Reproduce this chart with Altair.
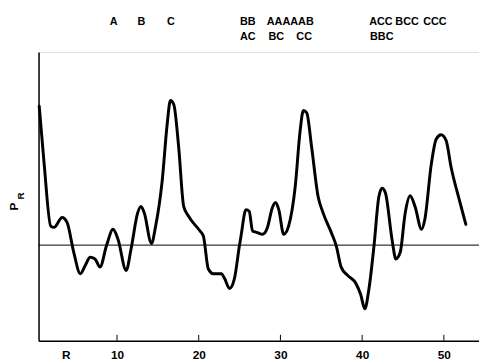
import altair as alt
import pandas as pd

# Curve (R, P_R in arbitrary units; 0 = reference line)
R = [0.48, 1.08, 1.89, 2.29, 3.29, 3.89, 4.70, 5.51, 6.11, 6.71, 7.31, 7.92, 8.71, 9.52, 10.12,
     11.12, 11.72, 12.53, 12.93, 13.34, 14.22, 14.73, 15.54, 16.14, 16.54, 16.95, 17.55, 18.16,
     18.76, 20.16, 20.57, 21.17, 21.77, 22.77, 23.17, 23.77, 24.37, 24.98, 25.18, 25.78, 26.18,
     26.59, 27.19, 27.80, 28.40, 29.00, 29.40, 29.80, 30.40, 31.00, 31.81, 32.41, 32.81, 33.22,
     33.82, 34.61, 35.22, 36.23, 36.83, 37.43, 38.23, 39.24, 39.84, 40.32, 40.84, 41.45, 42.05,
     42.45, 42.86, 43.65, 44.13, 44.66, 45.27, 45.87, 46.47, 47.27, 47.67, 48.47, 49.07, 49.67,
     50.28, 50.88, 51.89, 52.69]
P = [141, 83, 19.3, 18, 28, 23, -7, -29, -20.7, -12.3, -14, -22.3, -0.7, 16, 6,
     -25.7, -4, 32.7, 39.3, 32.7, 1.7, 19.3, 66, 122.7, 146.7, 142.7, 99.3, 39.3,
     29.3, 14.3, 9.3, -24, -29, -29, -34, -44, -34, -0.7, 9.3, 36, 34.3,
     14.3, 12.7, 11, 17.7, 37.7, 43.3, 36, 11, 19.3, 59.3, 116, 136.7, 134.3,
     99.3, 49.3, 32.7, 12.7, -0.7, -22.3, -30.7, -39, -50.7, -64.7, -44, -0.7, 49.3,
     57.7, 52.7, 6, -14, -7.3, 32.7, 50, 39.3, 16, 26, 82.7, 107.7, 112,
     106, 79.3, 46, 21]

# Peak labels at the top
top_labels = ["A", "B", "C", "BB", "AAAAAB", "ACC", "BCC", "CCC"]
top_pos = [9.6, 13.0, 16.6, 26.0, 31.2, 42.3, 45.5, 48.9]
sub_labels = ["AC", "BC", "CC", "BBC"]
sub_pos = [26.0, 29.5, 32.9, 42.4]

tick_values = [10, 20, 30, 40, 50]
axis_values = [3.73, 10, 20, 30, 40, 50]

W, H = 447, 293
xdom = [0.4, 54.3]
ydom = [-97, 196]

curve_df = pd.DataFrame({"R": R, "P": P})
xs = alt.Scale(domain=xdom, nice=False, zero=False)
ys = alt.Scale(domain=ydom, nice=False, zero=False)

curve = alt.Chart(curve_df).mark_line(
    color="black", strokeWidth=3, interpolate="monotone", strokeCap="round", strokeJoin="round"
).encode(
    x=alt.X("R:Q", scale=xs, axis=alt.Axis(
        values=axis_values, ticks=False, grid=False, title=None, domainColor="black",
        domainWidth=1.5, labelFont="Liberation Sans", labelFontSize=12, labelFontWeight="bold",
        labelColor="black", labelPadding=9,
        labelExpr="datum.value < 5 ? 'R' : datum.label")),
    y=alt.Y("P:Q", scale=ys, axis=alt.Axis(
        ticks=False, labels=False, grid=False, title=None, domainColor="black", domainWidth=1.5)),
)

ref = alt.Chart(pd.DataFrame({"v": [0]})).mark_rule(color="black", strokeWidth=1).encode(
    y=alt.Y("v:Q", scale=ys)
)

ticks = alt.Chart(pd.DataFrame({"t": tick_values})).mark_rule(color="black", strokeWidth=1).encode(
    x=alt.X("t:Q", scale=xs), y=alt.value(H - 6), y2=alt.value(H)
)

top1 = alt.Chart(pd.DataFrame({"lab": top_labels, "pos": top_pos})).mark_text(
    font="Liberation Sans", fontSize=11, fontWeight="bold", color="black", baseline="middle"
).encode(x=alt.X("pos:Q", scale=xs), y=alt.value(-30), text="lab:N")

top2 = alt.Chart(pd.DataFrame({"lab": sub_labels, "pos": sub_pos})).mark_text(
    font="Liberation Sans", fontSize=11, fontWeight="bold", color="black", baseline="middle"
).encode(x=alt.X("pos:Q", scale=xs), y=alt.value(-15), text="lab:N")

ylab_p = alt.Chart(pd.DataFrame({"t": ["P"]})).mark_text(
    font="Liberation Sans", fontSize=12, fontWeight="bold", color="black", angle=270,
    baseline="middle", align="center"
).encode(x=alt.value(-24.5), y=alt.value(157), text="t:N")

ylab_r = alt.Chart(pd.DataFrame({"t": ["R"]})).mark_text(
    font="Liberation Sans", fontSize=10, fontWeight="bold", color="black", angle=270,
    baseline="middle", align="center"
).encode(x=alt.value(-18), y=alt.value(146), text="t:N")

chart = alt.layer(ref, ticks, curve, top1, top2, ylab_p, ylab_r).properties(
    width=W, height=H,
    autosize=alt.AutoSizeParams(type="none"),
    padding={"left": 31, "top": 42, "right": 0, "bottom": 20},
).configure_view(stroke=None).configure(background="white")

chart.save("out.html", embed_options={"renderer": "svg", "actions": False})
